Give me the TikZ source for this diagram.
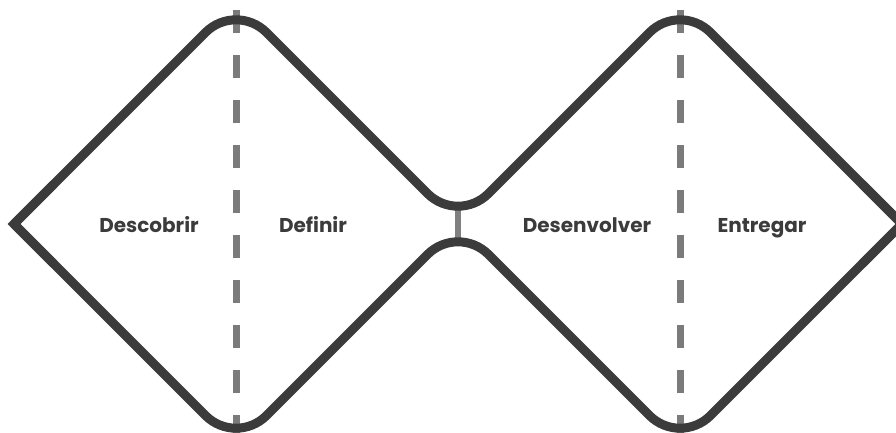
\documentclass[tikz,border=0pt]{standalone}
\usepackage{fontspec}
\usetikzlibrary{calc}
\setmainfont{Poppins}
\definecolor{outline}{HTML}{3B3B3B}
\definecolor{divider}{HTML}{7B7B7B}
\definecolor{link}{HTML}{808080}
\begin{document}
\begin{tikzpicture}[x=1pt,y=-1pt,
  frame/.style={draw=outline,line width=9pt,line join=miter},
  phaseline/.style={draw=divider,line width=7pt,dash pattern=on 23pt off 22pt},
  joiner/.style={draw=link,line width=6pt},
  phase/.style={font=\fontsize{20}{24}\selectfont\bfseries,text=outline,anchor=base,inner sep=0pt}]
\useasboundingbox (0,0) rectangle (896,432);
\begin{scope}
\clip (0,0) rectangle (896,432);
% corner points of the double diamond
\coordinate (lt) at (14,224);
\coordinate (t1) at (236,2);
\coordinate (mid) at (458,224);
\coordinate (t2) at (680,2);
\coordinate (rt) at (902,224);
\coordinate (b2) at (680,446);
\coordinate (b1) at (236,446);
% ends of the phase dividers and of the middle link
\coordinate (d1a) at (236,10);
\coordinate (d1b) at (236,440);
\coordinate (d2a) at (680,10);
\coordinate (d2b) at (680,440);
\coordinate (valley) at (458,206);
\coordinate (peak) at (458,242);
% phase dividers
\draw[phaseline] (d1a) -- (d1b);
\draw[phaseline] (d2a) -- (d2b);
% link between the two diamonds
\draw[joiner] (valley) -- (peak);
% upper outline: rounded at the tops and in the middle
\draw[frame,rounded corners=43pt] (lt) -- (t1) -- (mid) -- (t2) -- (rt);
% lower outline
\draw[frame,rounded corners=43pt] (rt) -- (b2) -- (mid) -- (b1) -- (lt);
% sharp outer tips
\draw[frame] ($(lt)+(40,-40)$) -- (lt) -- ($(lt)+(40,40)$);
\draw[frame] ($(rt)+(-40,-40)$) -- (rt) -- ($(rt)+(-40,40)$);
\end{scope}
% phase labels
\node[phase] (descobrir) at (149,232) {Descobrir};
\node[phase] (definir) at (313,232) {Definir};
\node[phase] (desenvolver) at (587,232) {Desenvolver};
\node[phase] (entregar) at (762,232) {Entregar};
\end{tikzpicture}
\end{document}
